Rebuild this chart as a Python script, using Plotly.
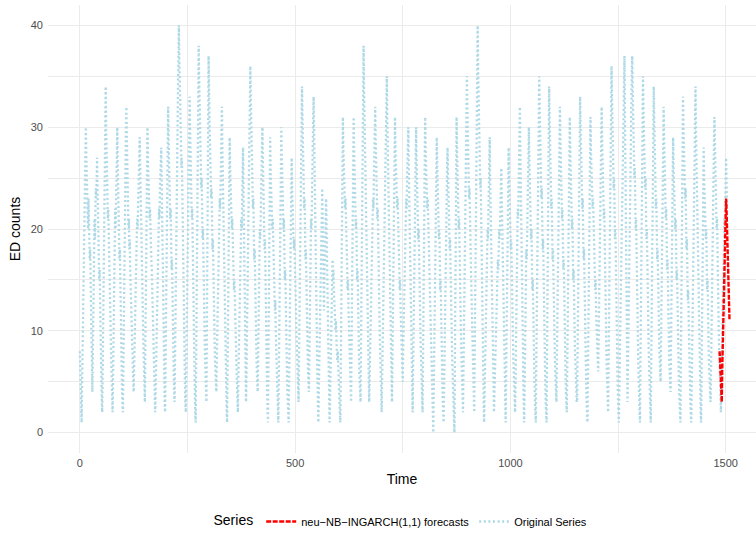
import plotly.graph_objects as go

# Daily ED counts, split into four consecutive blocks (one line per swing)
counts_block1 = [
    8, 6, 5, 3,
    1, 4, 8, 11, 15, 19, 18, 22, 25, 28,
    30, 27, 24, 26, 22, 20, 23, 19, 21, 17, 18, 14, 11, 8, 6,
    4, 7, 11, 14, 18, 21, 19, 22, 24, 23, 25,
    27, 24, 21, 22, 18, 15, 16, 12, 9, 7, 5, 3,
    2, 6, 11, 16, 21, 25, 29, 31,
    34, 30, 27, 24, 25, 21, 22, 19, 17, 18, 14, 12, 9, 7, 5, 3,
    2, 5, 9, 12, 16, 19, 22, 20, 24, 26, 28,
    30, 26, 23, 24, 20, 17, 18, 14, 11, 9, 6, 4, 3,
    2, 6, 11, 15, 20, 24, 27, 30,
    32, 28, 25, 26, 22, 20, 21, 18, 19, 16, 14, 15, 12, 10, 8, 6, 5,
    4, 6, 9, 12, 15, 17, 16, 19, 21, 20, 23, 25, 24, 27,
    29, 26, 23, 24, 20, 17, 15, 12, 10, 8, 6, 4,
    3, 8, 14, 19, 24, 27,
    30, 27, 25, 26, 23, 21, 22, 19, 20, 17, 16, 14, 12, 10, 8, 6, 4, 3,
    2, 4, 7, 10, 13, 15, 18, 17, 20, 22, 21, 24, 25, 27,
    28, 25, 21, 18, 15, 11, 8, 5, 3,
    2, 7, 12, 17, 22, 26, 29,
    32, 29, 26, 27, 23, 21, 22, 18, 16, 17, 13, 11, 8, 6, 4,
    3, 7, 12, 16, 20, 24, 27, 31, 34, 37,
    40, 37, 34, 31, 33, 29, 26, 27, 23, 20, 17, 14, 11, 8, 5, 3,
    2, 6, 10, 14, 18, 22, 25, 28, 31,
    33, 30, 27, 28, 24, 21, 22, 18, 15, 12, 9, 6, 4, 2,
    1, 6, 12, 18, 24, 29, 34,
    38, 35, 32, 29, 30, 26, 24, 25, 21, 19, 20, 16, 14, 11, 9, 7, 5, 4,
    3, 10, 17, 24, 31,
    37, 34, 31, 28, 29, 25, 23, 24, 20, 18, 19, 15, 13, 11, 9, 7, 6, 5,
    4, 7, 10, 13, 16, 19, 18, 21, 23, 22, 25, 28, 30,
    32, 28, 25, 26, 22, 19, 16, 13, 10, 7, 4, 2,
    1, 6, 11, 16, 21, 25,
    29, 26, 24, 25, 22, 20, 21, 18, 19, 16, 14, 15, 12, 10, 11, 8, 6, 4, 3,
]

counts_block2 = [
    2, 5, 8, 11, 14, 17, 16, 19, 21, 20, 23, 26,
    28, 24, 20, 16, 12, 8, 5,
    3, 6, 10, 14, 18, 22, 25, 28, 31, 34,
    36, 33, 30, 27, 28, 24, 22, 23, 19, 17, 18, 14, 12, 10, 8, 6, 5,
    4, 7, 11, 14, 17, 20, 19, 22, 24, 26, 28,
    30, 27, 24, 25, 21, 18, 19, 15, 12, 9, 6, 4, 2,
    1, 7, 13, 19, 24,
    29, 26, 24, 25, 22, 20, 21, 18, 16, 17, 14, 12, 13, 10, 8, 6, 4, 3, 2,
    1, 5, 10, 15, 20, 24, 27,
    30, 27, 25, 26, 22, 20, 21, 17, 15, 16, 12, 10, 8, 6, 4, 3, 2,
    1, 5, 9, 13, 17, 21, 24,
    27, 24, 22, 23, 20, 18, 19, 16, 14, 15, 12, 10, 8, 6, 5, 4,
    3, 7, 12, 16, 21, 25, 28, 31,
    34, 31, 28, 29, 25, 22, 23, 19, 17, 18, 14, 12, 10, 8, 6, 5,
    4, 7, 11, 14, 18, 21, 20, 24, 27, 29, 31,
    33, 29, 26, 27, 23, 19, 15, 11, 8, 5, 3,
    1, 4, 7, 10, 13, 16, 18, 20, 22,
    24, 21, 17, 14,
    12, 15, 18, 20, 22,
    23, 20, 17, 14, 10, 7, 4, 2,
    1, 3, 6, 8, 11, 13, 15,
    17, 15, 16, 14, 12, 13, 11, 10, 11, 9, 8, 7, 8, 6, 5, 4, 3, 2,
    1, 6, 12, 18, 23, 27,
    31, 28, 26, 27, 24, 22, 23, 20, 18, 19, 16, 14, 15, 12, 10, 8, 6, 5, 4,
    3, 8, 13, 19, 24, 28,
    31, 28, 25, 26, 22, 20, 21, 17, 15, 16, 12, 10, 8, 6, 5, 4,
    3, 8, 14, 20, 26, 31, 35,
    38, 34, 30, 27, 28, 24, 21, 18, 15, 12, 9, 6, 4,
    3, 5, 8, 11, 14, 16, 19, 18, 21, 23, 22, 25, 27, 30,
    32, 29, 26, 27, 23, 21, 22, 18, 16, 14, 11, 9, 7, 5, 3,
    2, 5, 8, 12, 15, 18, 21, 20, 24, 27, 30, 33,
    35, 31, 28, 29, 25, 22, 19, 16, 13, 10, 7, 5,
    3, 7, 12, 17, 22, 26, 29,
    31, 28, 26, 27, 24, 22, 23, 20, 18, 19, 16, 14, 15, 12, 10, 9, 7, 6,
]

counts_block3 = [
    5, 8, 11, 14, 17, 19, 18, 21, 23, 22, 25, 27, 29,
    30, 26, 23, 24, 20, 16, 12, 9, 6, 4,
    2, 6, 10, 14, 18, 22, 25, 28,
    30, 27, 24, 25, 21, 19, 20, 16, 14, 12, 10, 8, 6, 4, 3,
    2, 7, 13, 19, 24, 28,
    31, 28, 26, 27, 24, 22, 23, 20, 18, 19, 16, 14, 12, 10, 8, 6, 4, 2, 1,
    0, 4, 8, 12, 16, 20, 23, 26,
    29, 26, 23, 24, 21, 19, 20, 16, 14, 15, 11, 9, 7, 5, 3, 2,
    1, 4, 8, 11, 14, 17, 20, 23, 26,
    28, 25, 22, 23, 20, 18, 19, 15, 13, 11, 9, 7, 5, 3, 2, 1,
    0, 6, 13, 19, 25,
    31, 28, 25, 26, 22, 20, 21, 17, 15, 12, 10, 8, 6, 4, 3,
    2, 6, 10, 14, 18, 22, 26, 29, 32,
    35, 32, 29, 30, 26, 23, 24, 20, 18, 19, 15, 13, 11, 9, 7, 5, 3,
    2, 7, 12, 17, 22, 27, 31, 36,
    40, 36, 33, 30, 31, 27, 24, 25, 21, 18, 14, 11, 8, 5, 3,
    1, 4, 7, 10, 13, 16, 15, 18, 20, 19, 22, 25, 27,
    29, 25, 22, 23, 19, 15, 12, 9, 6, 4,
    2, 4, 6, 8, 10, 12, 14, 13, 16, 17, 16, 19, 20, 19, 22, 23, 25,
    26, 23, 20, 21, 17, 14, 10, 7, 4, 2,
    1, 5, 10, 14, 19, 23, 26,
    28, 25, 22, 23, 20, 18, 19, 15, 13, 11, 9, 7, 5, 4, 3,
    2, 5, 9, 12, 16, 19, 22, 21, 25, 28, 30,
    32, 28, 25, 26, 21, 17, 13, 9, 5, 3,
    1, 4, 8, 11, 15, 18, 17, 21, 24, 26, 28,
    30, 27, 24, 25, 21, 19, 20, 16, 14, 15, 11, 9, 7, 5, 3, 2,
    1, 6, 11, 16, 21, 25, 29, 32,
    35, 32, 29, 30, 26, 23, 24, 20, 18, 19, 15, 12, 10, 8, 5, 3, 2,
    1, 7, 13, 19, 25, 30,
    34, 31, 28, 29, 25, 22, 23, 19, 17, 18, 14, 12, 10, 8, 6, 5, 4,
    3, 7, 11, 15, 19, 23, 26, 29,
    32, 29, 26, 27, 23, 21, 22, 18, 16, 17, 13, 11, 8, 6, 4, 3,
]

counts_block4 = [
    2, 6, 11, 16, 21, 25, 28,
    31, 28, 25, 26, 22, 20, 21, 17, 15, 16, 12, 10, 8, 7, 5, 4, 3,
    3, 8, 13, 18, 23, 27, 30,
    33, 30, 27, 28, 24, 22, 23, 19, 17, 18, 14, 12, 9, 7, 5, 3, 2,
    1, 5, 10, 15, 20, 24, 28,
    31, 28, 26, 27, 24, 22, 23, 20, 18, 19, 16, 14, 15, 12, 10, 9, 8, 7,
    6, 9, 13, 17, 21, 24, 27, 30,
    32, 29, 26, 27, 23, 21, 22, 18, 15, 12, 10, 8, 6, 4, 3,
    2, 6, 11, 16, 21, 26, 30, 33,
    36, 33, 30, 31, 27, 24, 25, 21, 19, 20, 16, 13, 10, 8, 5, 3, 2,
    1, 4, 7, 10, 14, 17, 20, 19, 23, 26, 29, 32, 35,
    37, 32, 26, 21, 15, 10, 6,
    3, 6, 10, 14, 18, 22, 21, 25, 29, 32, 35,
    37, 34, 31, 32, 28, 25, 26, 22, 20, 21, 17, 14, 12, 9, 7, 5, 3, 2,
    1, 6, 12, 18, 24, 29, 32,
    35, 32, 29, 30, 26, 24, 25, 21, 19, 20, 16, 14, 11, 9, 7, 5, 3, 2,
    1, 6, 12, 17, 23, 28, 31,
    34, 31, 28, 29, 25, 22, 23, 19, 17, 18, 14, 12, 10, 8, 7, 6,
    5, 9, 14, 18, 23, 27, 30,
    32, 29, 26, 27, 23, 21, 22, 18, 16, 17, 13, 11, 9, 7, 6, 5,
    4, 8, 13, 18, 22, 26,
    29, 26, 24, 25, 22, 20, 21, 17, 15, 16, 12, 10, 8, 6, 4, 3, 2,
    1, 7, 13, 19, 25, 30,
    33, 30, 27, 28, 25, 23, 24, 20, 18, 19, 15, 13, 14, 11, 9, 7, 5, 3, 2,
    1, 4, 8, 12, 16, 20, 23, 26, 29, 32,
    34, 30, 27, 28, 24, 21, 18, 15, 12, 9, 6, 4, 2,
    1, 6, 11, 16, 21, 25,
    28, 25, 23, 24, 21, 19, 20, 16, 14, 15, 11, 9, 7, 6, 5, 4,
    3, 6, 10, 14, 18, 22, 25, 27, 29,
    31, 28, 25, 26, 22, 20, 21, 17, 15, 12, 10, 8, 6, 4, 3,
    2, 4, 7, 10, 13, 16, 15, 18, 21, 20, 23, 25,
    27, 25, 22,
]

# neu-NB-INGARCH(1,1) forecast path over the last days
forecast_start = 1486
forecast_values = [8, 6, 7, 5, 4, 3, 6, 8, 10, 12, 14, 15,
                   17, 19, 21, 23, 22, 20, 19, 17, 16, 14, 13, 11]

# Axis ticks
x_ticks = [0, 500, 1000, 1500]
y_ticks = [0, 10, 20, 30, 40]

series = counts_block1 + counts_block2 + counts_block3 + counts_block4
time = list(range(len(series)))
forecast_time = list(range(forecast_start, forecast_start + len(forecast_values)))

FONT = "Liberation Sans, Arial, Helvetica, sans-serif"
GRID = "#EBEBEB"

fig = go.Figure()

fig.add_trace(go.Scatter(
    x=time, y=series, mode="lines",
    name="Original Series",
    line=dict(color="#ADD8E6", width=2.3, dash="2px,2.6px"),
    legendrank=2, hoverinfo="skip",
))

fig.add_trace(go.Scatter(
    x=forecast_time, y=forecast_values, mode="lines",
    name="neu\u2212NB\u2212INGARCH(1,1) forecasts",
    line=dict(color="#FF0000", width=2.4, dash="5px,1.5px"),
    legendrank=1, hoverinfo="skip",
))

fig.update_layout(
    width=756, height=536, autosize=False,
    margin=dict(l=48, r=0, t=5, b=82),
    paper_bgcolor="white", plot_bgcolor="white",
    font=dict(family=FONT, color="#000000"),
    showlegend=True,
    legend=dict(
        orientation="h", x=0.5, xanchor="center", y=-0.152, yanchor="middle",
        title=dict(text="Series", font=dict(size=14, color="#000000"), side="left"),
        font=dict(size=11, color="#000000"),
        itemwidth=30, tracegroupgap=0,
    ),
)

fig.update_xaxes(
    range=[-74, 1570.5],
    tickvals=x_ticks, ticktext=[str(v) for v in x_ticks],
    showgrid=True, gridcolor=GRID, gridwidth=1.1,
    minor=dict(dtick=250, tick0=0, showgrid=True, gridcolor=GRID, gridwidth=0.55),
    zeroline=False, showline=False, ticks="",
    tickfont=dict(size=11, color="#4D4D4D"),
    ticklabelstandoff=2,
    title=dict(text="Time", font=dict(size=14, color="#000000"), standoff=6),
)

fig.update_yaxes(
    range=[-2, 42],
    tickvals=y_ticks, ticktext=[str(v) for v in y_ticks],
    showgrid=True, gridcolor=GRID, gridwidth=1.1,
    minor=dict(dtick=5, tick0=0, showgrid=True, gridcolor=GRID, gridwidth=0.55),
    zeroline=False, showline=False, ticks="",
    tickfont=dict(size=11, color="#4D4D4D"),
    ticklabelstandoff=4,
    title=dict(text="ED counts", font=dict(size=14, color="#000000"), standoff=6),
)

fig.write_html("out.html")
